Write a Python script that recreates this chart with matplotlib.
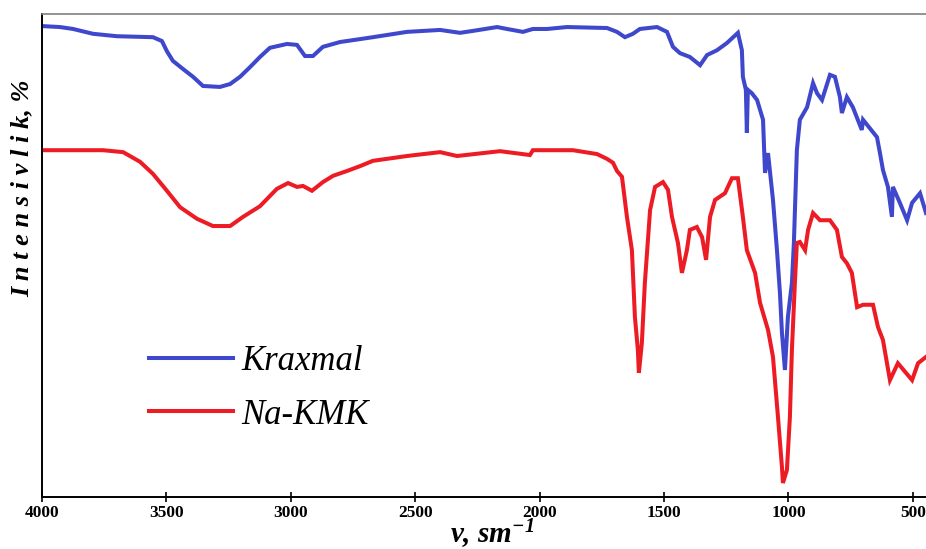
#!/usr/bin/env python3
"""
IR spektr: Kraxmal va Na-KMK (o'tkazish, %)
"""

import matplotlib.pyplot as plt

# ranglar
BLUE = '#3f48cc'
RED = '#ed1c24'
SERIF = ['Liberation Serif', 'DejaVu Serif']

plt.rcParams['mathtext.fontset'] = 'custom'
plt.rcParams['mathtext.rm'] = 'Liberation Serif:italic:bold'
plt.rcParams['mathtext.it'] = 'Liberation Serif:italic:bold'

# Kraxmal (to'lqin soni, sm-1 / intensivlik, %)
kraxmal_v = [4000, 3928, 3875, 3795, 3699, 3554, 3518, 3498, 3474, 3433, 3393, 3353,
             3285, 3244, 3204, 3164, 3124, 3084, 3015, 2975, 2943, 2911, 2871, 2802,
             2722, 2670, 2533, 2400, 2320, 2268, 2171, 2131, 2067, 2027, 1970, 1890,
             1729, 1689, 1657, 1625, 1597, 1528, 1488, 1464, 1436, 1396, 1355, 1327,
             1287, 1247, 1203, 1187, 1183, 1171, 1167, 1163, 1147, 1126, 1102, 1098,
             1094, 1082, 1062, 1046, 1034, 1026, 1014, 1002, 986, 978, 966, 954,
             925, 901, 885, 865, 833, 813, 793, 785, 765, 741, 705, 700,
             644, 632, 620, 600, 584, 580, 552, 523, 503, 471, 447]
kraxmal_t = [97.5, 97.3, 96.9, 95.9, 95.4, 95.2, 94.4, 92.3, 90.3, 88.6, 87.0, 85.1,
             84.9, 85.5, 87.0, 89.0, 91.1, 93.0, 93.8, 93.6, 91.3, 91.3, 93.2, 94.2,
             94.8, 95.2, 96.3, 96.7, 96.1, 96.5, 97.3, 96.9, 96.3, 96.9, 96.9, 97.3,
             97.1, 96.3, 95.2, 95.9, 96.9, 97.3, 96.3, 93.2, 91.9, 91.1, 89.4, 91.5,
             92.5, 94.0, 96.1, 92.5, 87.0, 84.3, 75.4, 84.3, 83.6, 82.2, 78.1, 72.5,
             67.1, 71.2, 61.5, 51.1, 42.2, 34.0, 26.3, 37.3, 44.3, 52.6, 71.8, 78.1,
             80.7, 85.7, 83.6, 82.2, 87.4, 87.0, 82.8, 79.5, 82.8, 80.7, 76.0, 78.1,
             74.5, 71.2, 67.7, 64.2, 58.0, 64.2, 60.9, 57.3, 60.9, 62.9, 58.8]

# Na-KMK
nakmk_v = [4000, 3755, 3674, 3606, 3554, 3498, 3445, 3377, 3313, 3244, 3192, 3124,
           3056, 3011, 2975, 2951, 2915, 2871, 2830, 2774, 2722, 2670, 2533, 2400,
           2332, 2159, 2039, 2027, 1866, 1769, 1729, 1705, 1689, 1669, 1649, 1629,
           1617, 1605, 1601, 1589, 1577, 1556, 1536, 1504, 1484, 1468, 1444, 1428,
           1408, 1396, 1368, 1347, 1331, 1315, 1295, 1255, 1227, 1203, 1183, 1167,
           1134, 1114, 1082, 1062, 1042, 1026, 1022, 1006, 994, 986, 974, 966,
           954, 933, 921, 901, 873, 833, 805, 785, 765, 745, 724, 700,
           660, 640, 620, 592, 560, 503, 479, 447]
nakmk_t = [71.8, 71.8, 71.4, 69.4, 66.9, 63.4, 60.0, 57.6, 56.1, 56.1, 58.0, 60.2,
           63.8, 65.0, 64.2, 64.4, 63.4, 65.2, 66.5, 67.5, 68.5, 69.6, 70.6, 71.4,
           70.6, 71.6, 70.8, 71.8, 71.8, 71.0, 70.0, 69.2, 67.5, 66.3, 58.0, 51.1,
           37.3, 30.4, 25.7, 31.9, 44.3, 59.4, 64.2, 65.2, 63.6, 58.0, 52.6, 46.4,
           51.1, 55.3, 55.9, 53.8, 49.1, 58.0, 61.5, 62.9, 66.0, 66.0, 58.0, 51.1,
           46.4, 40.2, 34.6, 29.0, 16.6, 6.2, 2.9, 5.6, 16.6, 30.4, 44.3, 52.6,
           52.8, 51.1, 55.3, 58.8, 57.3, 57.3, 55.3, 49.7, 48.4, 46.4, 39.3, 39.8,
           39.8, 35.2, 32.5, 24.2, 27.7, 24.2, 27.7, 29.0]

x_ticks = [4000, 3500, 3000, 2500, 2000, 1500, 1000, 500]

fig = plt.figure(figsize=(9.26, 5.49), dpi=100)
ax = fig.add_axes([42 / 926, 52 / 549, 884 / 926, 483 / 549])

ax.plot(kraxmal_v, kraxmal_t, color=BLUE, lw=2.9, label='Kraxmal', solid_joinstyle='miter')
ax.plot(nakmk_v, nakmk_t, color=RED, lw=2.9, label='Na-KMK', solid_joinstyle='miter')

ax.set_xlim(4000, 447)
ax.set_ylim(0, 100)

# o'qlar
ax.spines['right'].set_visible(False)
ax.spines['top'].set_color('#808080')
ax.spines['top'].set_linewidth(1.2)
ax.spines['left'].set_linewidth(1.4)
ax.spines['bottom'].set_linewidth(1.4)
ax.set_yticks([])
ax.set_xticks(x_ticks)
ax.set_xticklabels([str(t) for t in x_ticks], family=SERIF, fontweight='bold', fontsize=12.5)
ax.tick_params(axis='x', direction='inout', length=7, width=1.2, pad=2)

# legenda
leg = ax.legend(loc='upper left', bbox_to_anchor=(132 / 926, 1 - 328 / 549),
                bbox_transform=fig.transFigure, frameon=False, borderpad=0,
                handlelength=2.4, handletextpad=0.25, labelspacing=0.58,
                prop={'family': SERIF, 'style': 'italic', 'size': 25})

# o'q nomlari
fig.text(22 / 926, 1 - 188 / 549, 'I n t e n s i v l i k, %', rotation=90,
         ha='center', va='center', family=SERIF, style='italic', fontweight='bold', fontsize=19)
fig.text(492 / 926, 1 - 543 / 549, r'ν, sm$^{\mathregular{-1}}$', ha='center', va='baseline',
         family=SERIF, style='italic', fontweight='bold', fontsize=21)

fig.savefig('out.png', dpi=100)
